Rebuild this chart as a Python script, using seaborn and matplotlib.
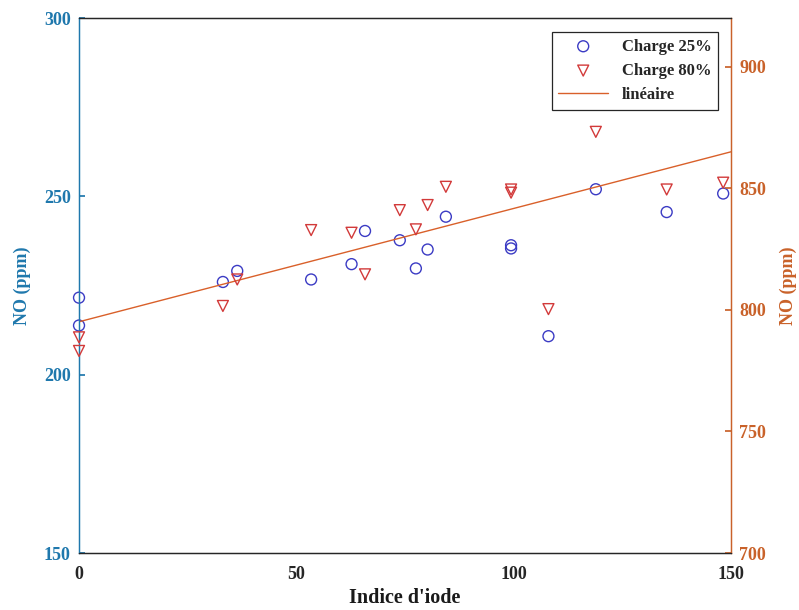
import matplotlib.pyplot as plt
import numpy as np
import seaborn as sns

# values
indice_iode = [0, 0, 33.1, 36.4, 53.4, 62.7, 65.8, 73.8, 77.5, 80.2, 84.4, 99.4, 99.4, 108.0, 118.9, 135.2, 148.2]
no_charge25 = [221.6, 213.8, 226.0, 229.1, 226.7, 231.0, 240.3, 237.7, 229.8, 235.1, 244.3, 236.3, 235.4, 210.8, 252.0, 245.6, 250.8]
no_charge80 = [788.7, 783.1, 801.6, 812.5, 832.8, 831.7, 814.6, 841.0, 833.1, 843.1, 850.6, 849.5, 848.2, 800.3, 873.2, 849.5, 852.3]
fit_x = [0, 150]
fit_y = [795.1, 865.0]

LEFT_COLOR = '#1f78ad'
RIGHT_COLOR = '#c9622a'
BLUE = '#3b3bc4'
RED = '#d23a3a'
LINE = '#d9602a'

sns.set_theme(style='white')
plt.rcParams['font.family'] = ['Liberation Serif', 'DejaVu Serif']
plt.rcParams['font.weight'] = 'bold'

fig = plt.figure(figsize=(7.99, 6.10), dpi=100)
ax = fig.add_axes([0.0989, 0.0934, 0.816, 0.877])
ax2 = ax.twinx()

sns.scatterplot(x=indice_iode, y=no_charge25, ax=ax, marker='o', s=62, facecolor='none',
                edgecolor=BLUE, linewidth=1.0, label='Charge 25%', zorder=3, clip_on=False)
sns.scatterplot(x=indice_iode, y=no_charge80, ax=ax2, marker='v', s=62, facecolor='none',
                edgecolor=RED, linewidth=1.0, label='Charge 80%', zorder=3, clip_on=False)
sns.lineplot(x=fit_x, y=fit_y, ax=ax2, color=LINE, linewidth=1.0, label='linéaire')

ax.set_xlim(0, 150)
ax.set_ylim(150, 300)
ax2.set_ylim(700, 920)
ax.set_xticks([0, 50, 100, 150])
ax.set_yticks([150, 200, 250, 300])
ax2.set_yticks([700, 750, 800, 850, 900])

ax.set_xlabel("Indice d'iode", fontsize=14.5, fontweight='bold', color='#1a1a1a', labelpad=4)
ax.set_ylabel('NO (ppm)', fontsize=13, fontweight='bold', color=LEFT_COLOR, labelpad=9)
ax2.set_ylabel('NO (ppm)', fontsize=13, fontweight='bold', color=RIGHT_COLOR, labelpad=10)

ax.tick_params(axis='x', direction='in', length=4, colors='#262626', labelsize=13, pad=9)
ax.tick_params(axis='y', direction='in', length=4, colors=LEFT_COLOR, labelsize=13, pad=6)
ax2.tick_params(axis='y', direction='in', length=4, colors=RIGHT_COLOR, labelsize=13, pad=6)
for lab in ax.get_xticklabels() + ax.get_yticklabels() + ax2.get_yticklabels():
    lab.set_fontweight('bold')

for a in (ax, ax2):
    a.spines['bottom'].set_color('#262626')
    a.spines['top'].set_color('#262626')
    a.spines['left'].set_color(LEFT_COLOR)
    a.spines['right'].set_color(RIGHT_COLOR)
    for s in a.spines.values():
        s.set_linewidth(0.9)

h1, l1 = ax.get_legend_handles_labels()
h2, l2 = ax2.get_legend_handles_labels()
if ax.get_legend():
    ax.get_legend().remove()
leg = ax2.legend(h1 + h2, l1 + l2, loc='upper right', bbox_to_anchor=(0.98, 0.974), borderaxespad=0,
                 fancybox=False, framealpha=1, edgecolor='#262626', handlelength=3.0,
                 prop={'family': 'Liberation Serif', 'weight': 'bold', 'size': 12})
leg.get_frame().set_linewidth(0.9)

plt.savefig('out.png', dpi=100)
plt.close(fig)
